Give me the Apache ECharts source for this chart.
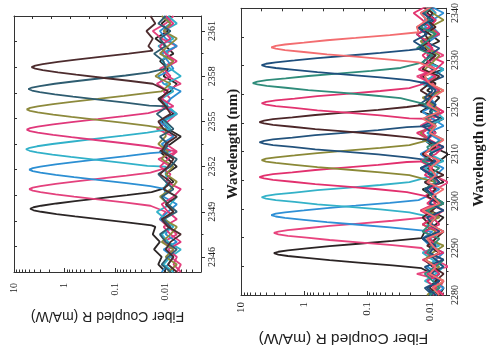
<!DOCTYPE html>
<html>
<head>
<meta charset="utf-8">
<script src="https://cdn.jsdelivr.net/npm/echarts@6/dist/echarts.min.js"></script>
<style>
  html, body { margin: 0; padding: 0; background: #ffffff; }
  #chart { width: 488px; height: 359px; }
</style>
</head>
<body>
<div id="chart"></div>
<script>
// ---------- responsivity axis (log) ----------
const respTicks = [0.01, 0.1, 1, 10];
const respTickLabels = ['0.01', '0.1', '1', '10'];
const respMinorTicks = [0.002, 0.003, 0.004, 0.005, 0.006, 0.007, 0.008, 0.009,
  0.02, 0.03, 0.04, 0.05, 0.06, 0.07, 0.08, 0.09,
  0.2, 0.3, 0.4, 0.5, 0.6, 0.7, 0.8, 0.9,
  2, 3, 4, 5, 6, 7, 8, 9];

// ---------- fine scan, 2345-2362 nm ----------
const fineWaveTicks = [2346, 2349, 2352, 2355, 2358, 2361];
const fineWaveMinor = [2347.5, 2350.5, 2353.5, 2356.5, 2359.5];
const fineFloorWave = [2345.0, 2345.5, 2346.0, 2346.5, 2347.0, 2347.5, 2348.0, 2348.5, 2349.0, 2349.5,
  2350.0, 2350.5, 2351.0, 2351.5, 2352.0, 2352.5, 2353.0, 2353.5, 2354.0, 2354.5, 2355.0, 2355.5,
  2356.0, 2356.5, 2357.0, 2357.5, 2358.0, 2358.5, 2359.0, 2359.5, 2360.0, 2360.5, 2361.0, 2361.5, 2362.0];

const fineColors = ['#2b2626', '#e4417d', '#2c8fd3', '#31b1c9', '#e0387b', '#8d8a3c', '#2e5c70', '#4d2c2e'];

// passband of each channel: [wavelength nm, R mA/W]
const fineCh1 = [[2348.1,0.019],[2348.3,0.058],[2348.5,0.19],[2348.7,0.62],[2348.85,1.44],[2349.0,2.9],[2349.1,4.1],[2349.2,4.8],[2349.3,4.1],[2349.4,2.9],[2349.55,1.44],[2349.7,0.62],[2349.9,0.19],[2350.1,0.058],[2350.3,0.019]];
const fineCh2 = [[2349.4,0.02],[2349.6,0.06],[2349.8,0.2],[2350.0,0.65],[2350.15,1.5],[2350.3,3.0],[2350.4,4.25],[2350.5,5.0],[2350.6,4.25],[2350.7,3.0],[2350.85,1.5],[2351.0,0.65],[2351.2,0.2],[2351.4,0.06],[2351.6,0.02]];
const fineCh3 = [[2350.7,0.02],[2350.9,0.06],[2351.1,0.2],[2351.3,0.65],[2351.45,1.5],[2351.6,3.0],[2351.7,4.25],[2351.8,5.0],[2351.9,4.25],[2352.0,3.0],[2352.15,1.5],[2352.3,0.65],[2352.5,0.2],[2352.7,0.06],[2352.9,0.02]];
const fineCh4 = [[2352.05,0.023],[2352.25,0.07],[2352.45,0.23],[2352.65,0.75],[2352.8,1.74],[2352.95,3.5],[2353.05,4.9],[2353.15,5.8],[2353.25,4.9],[2353.35,3.5],[2353.5,1.74],[2353.65,0.75],[2353.85,0.23],[2354.05,0.07],[2354.25,0.023]];
const fineCh5 = [[2353.35,0.022],[2353.55,0.067],[2353.75,0.22],[2353.95,0.73],[2354.1,1.68],[2354.25,3.4],[2354.35,4.8],[2354.45,5.6],[2354.55,4.8],[2354.65,3.4],[2354.8,1.68],[2354.95,0.73],[2355.15,0.22],[2355.35,0.067],[2355.55,0.022]];
const fineCh6 = [[2354.7,0.022],[2354.9,0.067],[2355.1,0.22],[2355.3,0.73],[2355.45,1.68],[2355.6,3.4],[2355.7,4.8],[2355.8,5.6],[2355.9,4.8],[2356.0,3.4],[2356.15,1.68],[2356.3,0.73],[2356.5,0.22],[2356.7,0.067],[2356.9,0.022]];
const fineCh7 = [[2356.05,0.021],[2356.25,0.062],[2356.45,0.21],[2356.65,0.68],[2356.8,1.56],[2356.95,3.1],[2357.05,4.4],[2357.15,5.2],[2357.25,4.4],[2357.35,3.1],[2357.5,1.56],[2357.65,0.68],[2357.85,0.21],[2358.05,0.062],[2358.25,0.021]];
const fineCh8 = [[2357.5,0.018],[2357.7,0.054],[2357.9,0.18],[2358.1,0.59],[2358.25,1.35],[2358.4,2.7],[2358.5,3.8],[2358.6,4.5],[2358.7,3.8],[2358.8,2.7],[2358.95,1.35],[2359.1,0.59],[2359.3,0.18],[2359.5,0.054],[2359.7,0.018]];

// out-of-band floor of each channel, sampled on fineFloorWave
const fineFloor1 = [0.010,0.014,0.012,0.017,0.013,0.018,0.016,0.02,0.02,0.02,0.02,0.012,0.007,0.010,0.006,0.009,0.013,0.008,0.005,0.009,0.012,0.007,0.010,0.014,0.008,0.006,0.011,0.009,0.013,0.007,0.010,0.016,0.009,0.012,0.008];
const fineFloor2 = [0.006,0.005,0.008,0.007,0.011,0.006,0.009,0.013,0.01,0.01,0.01,0.01,0.01,0.012,0.008,0.014,0.006,0.010,0.007,0.015,0.009,0.006,0.012,0.008,0.011,0.005,0.009,0.013,0.007,0.010,0.006,0.012,0.018,0.010,0.007];
const fineFloor3 = [0.012,0.009,0.007,0.011,0.006,0.010,0.008,0.013,0.009,0.006,0.011,0.01,0.01,0.01,0.01,0.01,0.008,0.012,0.007,0.009,0.013,0.006,0.010,0.008,0.005,0.011,0.014,0.007,0.009,0.012,0.006,0.010,0.013,0.008,0.011];
const fineFloor4 = [0.007,0.011,0.008,0.005,0.009,0.012,0.007,0.010,0.015,0.008,0.006,0.011,0.009,0.01,0.01,0.01,0.01,0.01,0.014,0.008,0.011,0.006,0.009,0.012,0.007,0.010,0.005,0.008,0.012,0.009,0.014,0.007,0.011,0.006,0.009];
const fineFloor5 = [0.005,0.007,0.006,0.009,0.005,0.008,0.011,0.006,0.009,0.012,0.007,0.005,0.010,0.008,0.013,0.009,0.006,0.01,0.01,0.01,0.01,0.01,0.007,0.012,0.009,0.015,0.008,0.011,0.006,0.010,0.013,0.008,0.011,0.007,0.010];
const fineFloor6 = [0.009,0.006,0.010,0.007,0.012,0.008,0.006,0.011,0.007,0.009,0.013,0.008,0.006,0.010,0.007,0.012,0.009,0.014,0.010,0.01,0.01,0.01,0.01,0.01,0.012,0.008,0.016,0.010,0.007,0.013,0.009,0.006,0.011,0.008,0.012];
const fineFloor7 = [0.008,0.012,0.009,0.006,0.010,0.013,0.008,0.011,0.006,0.009,0.012,0.007,0.010,0.014,0.008,0.006,0.011,0.009,0.013,0.007,0.010,0.015,0.009,0.01,0.01,0.01,0.01,0.01,0.011,0.017,0.010,0.013,0.008,0.014,0.010];
const fineFloor8 = [0.006,0.009,0.007,0.010,0.008,0.005,0.009,0.012,0.007,0.010,0.006,0.011,0.008,0.013,0.009,0.007,0.012,0.010,0.006,0.011,0.014,0.008,0.010,0.013,0.009,0.012,0.02,0.02,0.02,0.02,0.022,0.018,0.024,0.016,0.02];

// ---------- wide scan, 2280-2341 nm ----------
const wideWaveTicks = [2280, 2290, 2300, 2310, 2320, 2330, 2340];
const wideWaveMinor = [2285, 2295, 2305, 2315, 2325, 2335];
const wideFloorWave = [2280, 2281.5, 2283, 2284.5, 2286, 2287.5, 2289, 2290.5, 2292, 2293.5, 2295, 2296.5,
  2298, 2299.5, 2301, 2302.5, 2304, 2305.5, 2307, 2308.5, 2310, 2311.5, 2313, 2314.5, 2316, 2317.5,
  2319, 2320.5, 2322, 2323.5, 2325, 2326.5, 2328, 2329.5, 2331, 2332.5, 2334, 2335.5, 2337, 2338.5, 2340, 2341.5];

const wideColors = ['#2b2424', '#e8447e', '#2f90d6', '#34b2c8', '#e2306e', '#8b8937',
  '#23537d', '#4c2628', '#e2336f', '#2f8c7a', '#1f4f7d', '#f36d70'];

const wideCh1 = [[2285.7,0.0135],[2286.3,0.039],[2286.9,0.135],[2287.4,0.39],[2287.9,0.9],[2288.3,1.8],[2288.6,2.55],[2288.9,3.0],[2289.2,2.55],[2289.5,1.8],[2289.9,0.9],[2290.4,0.39],[2290.9,0.135],[2291.5,0.039],[2292.1,0.0135]];
const wideCh2 = [[2290.0,0.0135],[2290.6,0.039],[2291.2,0.135],[2291.7,0.39],[2292.2,0.9],[2292.6,1.8],[2292.9,2.55],[2293.2,3.0],[2293.5,2.55],[2293.8,1.8],[2294.2,0.9],[2294.7,0.39],[2295.2,0.135],[2295.8,0.039],[2296.4,0.0135]];
const wideCh3 = [[2293.8,0.015],[2294.4,0.043],[2295.0,0.15],[2295.5,0.43],[2296.0,1.0],[2296.4,2.0],[2296.7,2.8],[2297.0,3.3],[2297.3,2.8],[2297.6,2.0],[2298.0,1.0],[2298.5,0.43],[2299.0,0.15],[2299.6,0.043],[2300.2,0.015]];
const wideCh4 = [[2297.6,0.021],[2298.2,0.061],[2298.8,0.21],[2299.3,0.61],[2299.8,1.41],[2300.2,2.8],[2300.5,4.0],[2300.8,4.7],[2301.1,4.0],[2301.4,2.8],[2301.8,1.41],[2302.3,0.61],[2302.8,0.21],[2303.4,0.061],[2304.0,0.021]];
const wideCh5 = [[2301.9,0.023],[2302.5,0.066],[2303.1,0.23],[2303.6,0.66],[2304.1,1.53],[2304.5,3.1],[2304.8,4.3],[2305.1,5.1],[2305.4,4.3],[2305.7,3.1],[2306.1,1.53],[2306.6,0.66],[2307.1,0.23],[2307.7,0.066],[2308.3,0.023]];
const wideCh6 = [[2305.5,0.021],[2306.1,0.061],[2306.7,0.21],[2307.2,0.61],[2307.7,1.41],[2308.1,2.8],[2308.4,4.0],[2308.7,4.7],[2309.0,4.0],[2309.3,2.8],[2309.7,1.41],[2310.2,0.61],[2310.7,0.21],[2311.3,0.061],[2311.9,0.021]];
const wideCh7 = [[2309.3,0.023],[2309.9,0.066],[2310.5,0.23],[2311.0,0.66],[2311.5,1.53],[2311.9,3.1],[2312.2,4.3],[2312.5,5.1],[2312.8,4.3],[2313.1,3.1],[2313.5,1.53],[2314.0,0.66],[2314.5,0.23],[2315.1,0.066],[2315.7,0.023]];
const wideCh8 = [[2313.6,0.023],[2314.2,0.066],[2314.8,0.23],[2315.3,0.66],[2315.8,1.53],[2316.2,3.1],[2316.5,4.3],[2316.8,5.1],[2317.1,4.3],[2317.4,3.1],[2317.8,1.53],[2318.3,0.66],[2318.8,0.23],[2319.4,0.066],[2320.0,0.023]];
const wideCh9 = [[2317.6,0.021],[2318.2,0.061],[2318.8,0.21],[2319.3,0.61],[2319.8,1.41],[2320.2,2.8],[2320.5,4.0],[2320.8,4.7],[2321.1,4.0],[2321.4,2.8],[2321.8,1.41],[2322.3,0.61],[2322.8,0.21],[2323.4,0.061],[2324.0,0.021]];
const wideCh10 = [[2321.9,0.029],[2322.5,0.085],[2323.1,0.29],[2323.6,0.85],[2324.1,1.95],[2324.5,3.9],[2324.8,5.5],[2325.1,6.5],[2325.4,5.5],[2325.7,3.9],[2326.1,1.95],[2326.6,0.85],[2327.1,0.29],[2327.7,0.085],[2328.3,0.029]];
const wideCh11 = [[2325.7,0.021],[2326.3,0.061],[2326.9,0.21],[2327.4,0.61],[2327.9,1.41],[2328.3,2.8],[2328.6,4.0],[2328.9,4.7],[2329.2,4.0],[2329.5,2.8],[2329.9,1.41],[2330.4,0.61],[2330.9,0.21],[2331.5,0.061],[2332.1,0.021]];
const wideCh12 = [[2329.5,0.015],[2330.1,0.043],[2330.7,0.15],[2331.2,0.43],[2331.7,1.0],[2332.1,2.0],[2332.4,2.8],[2332.7,3.3],[2333.0,2.8],[2333.3,2.0],[2333.7,1.0],[2334.2,0.43],[2334.7,0.15],[2335.3,0.043],[2335.9,0.015]];

const wideFloor1 = [0.007,0.006,0.008,0.009,0.01,0.01,0.01,0.01,0.01,0.012,0.008,0.006,0.010,0.007,0.009,0.013,0.006,0.008,0.011,0.007,0.005,0.009,0.012,0.008,0.010,0.006,0.014,0.009,0.007,0.011,0.008,0.013,0.006,0.010,0.009,0.012,0.007,0.010,0.015,0.008,0.011,0.009];
const wideFloor2 = [0.009,0.007,0.006,0.016,0.005,0.008,0.011,0.01,0.01,0.01,0.01,0.007,0.010,0.006,0.012,0.008,0.005,0.009,0.013,0.007,0.010,0.006,0.011,0.008,0.014,0.009,0.006,0.010,0.012,0.007,0.009,0.016,0.008,0.011,0.006,0.010,0.013,0.007,0.009,0.012,0.008,0.010];
const wideFloor3 = [0.008,0.006,0.009,0.007,0.011,0.008,0.006,0.010,0.013,0.009,0.01,0.01,0.01,0.01,0.011,0.007,0.012,0.008,0.006,0.010,0.014,0.009,0.007,0.011,0.006,0.009,0.013,0.008,0.010,0.007,0.012,0.009,0.006,0.011,0.008,0.014,0.010,0.007,0.012,0.009,0.006,0.010];
const wideFloor4 = [0.010,0.007,0.012,0.008,0.006,0.009,0.013,0.007,0.010,0.006,0.011,0.009,0.01,0.01,0.01,0.01,0.01,0.008,0.012,0.006,0.010,0.007,0.013,0.009,0.011,0.006,0.008,0.012,0.010,0.007,0.014,0.009,0.006,0.011,0.008,0.010,0.013,0.007,0.009,0.012,0.008,0.011];
const wideFloor5 = [0.006,0.009,0.007,0.011,0.008,0.013,0.006,0.010,0.008,0.012,0.007,0.009,0.014,0.008,0.011,0.01,0.01,0.01,0.01,0.009,0.013,0.007,0.010,0.016,0.008,0.011,0.006,0.009,0.012,0.007,0.010,0.014,0.008,0.006,0.011,0.009,0.013,0.007,0.010,0.008,0.012,0.009];
const wideFloor6 = [0.011,0.008,0.006,0.010,0.007,0.012,0.009,0.006,0.011,0.008,0.013,0.007,0.010,0.006,0.009,0.012,0.008,0.01,0.01,0.01,0.01,0.01,0.010,0.014,0.008,0.011,0.007,0.009,0.013,0.006,0.010,0.008,0.012,0.009,0.007,0.011,0.014,0.008,0.010,0.006,0.009,0.012];
const wideFloor7 = [0.009,0.012,0.007,0.010,0.006,0.008,0.011,0.009,0.013,0.007,0.010,0.008,0.012,0.006,0.009,0.011,0.007,0.010,0.014,0.008,0.01,0.01,0.01,0.01,0.009,0.012,0.007,0.015,0.010,0.008,0.011,0.006,0.009,0.013,0.010,0.007,0.012,0.016,0.009,0.011,0.014,0.008];
const wideFloor8 = [0.007,0.010,0.008,0.006,0.009,0.012,0.007,0.011,0.008,0.006,0.010,0.013,0.009,0.007,0.011,0.008,0.012,0.006,0.010,0.009,0.013,0.008,0.011,0.01,0.01,0.01,0.01,0.012,0.009,0.014,0.010,0.007,0.013,0.011,0.008,0.015,0.010,0.012,0.008,0.011,0.009,0.013];
const wideFloor9 = [0.006,0.008,0.011,0.007,0.009,0.006,0.012,0.008,0.010,0.007,0.013,0.009,0.006,0.011,0.008,0.010,0.007,0.012,0.009,0.014,0.008,0.006,0.010,0.013,0.009,0.011,0.01,0.01,0.01,0.01,0.012,0.008,0.015,0.010,0.013,0.009,0.011,0.016,0.010,0.013,0.018,0.011];
const wideFloor10 = [0.010,0.007,0.009,0.012,0.008,0.006,0.011,0.009,0.007,0.013,0.010,0.008,0.011,0.006,0.009,0.012,0.008,0.010,0.007,0.013,0.009,0.011,0.006,0.010,0.008,0.012,0.009,0.011,0.01,0.01,0.01,0.01,0.01,0.013,0.009,0.016,0.011,0.008,0.014,0.010,0.012,0.009];
const wideFloor11 = [0.008,0.011,0.007,0.009,0.012,0.006,0.010,0.008,0.013,0.007,0.009,0.011,0.006,0.010,0.008,0.012,0.007,0.009,0.014,0.008,0.010,0.006,0.011,0.009,0.013,0.007,0.010,0.008,0.012,0.009,0.011,0.01,0.01,0.01,0.01,0.012,0.018,0.011,0.016,0.009,0.013,0.010];
const wideFloor12 = [0.007,0.009,0.006,0.010,0.008,0.012,0.007,0.009,0.011,0.006,0.010,0.008,0.013,0.007,0.009,0.006,0.011,0.008,0.010,0.007,0.012,0.009,0.006,0.010,0.008,0.013,0.007,0.011,0.009,0.006,0.010,0.012,0.008,0.01,0.01,0.01,0.01,0.01,0.016,0.011,0.014,0.009];

const fineChannels = [fineCh1, fineCh2, fineCh3, fineCh4, fineCh5, fineCh6, fineCh7, fineCh8];
const fineFloors = [fineFloor1, fineFloor2, fineFloor3, fineFloor4, fineFloor5, fineFloor6, fineFloor7, fineFloor8];
const wideChannels = [wideCh1, wideCh2, wideCh3, wideCh4, wideCh5, wideCh6, wideCh7, wideCh8, wideCh9, wideCh10, wideCh11, wideCh12];
const wideFloors = [wideFloor1, wideFloor2, wideFloor3, wideFloor4, wideFloor5, wideFloor6, wideFloor7, wideFloor8, wideFloor9, wideFloor10, wideFloor11, wideFloor12];

// ---------- helpers ----------
// join a channel's passband with its floor samples outside the band; points are [R, wavelength]
function channelTrace(band, floorWave, floorR) {
  const lo = band[0][0], hi = band[band.length - 1][0];
  const below = [], above = [];
  floorWave.forEach((w, i) => {
    if (w < lo) below.push([w, floorR[i]]);
    else if (w > hi) above.push([w, floorR[i]]);
  });
  return below.concat(band, above).map(p => [p[1], p[0]]);
}

function respLabel(v) {
  const lv = Math.log10(v);
  for (let i = 0; i < respTicks.length; i++) {
    if (Math.abs(Math.log10(respTicks[i]) - lv) < 0.01) return respTickLabels[i];
  }
  return '';
}

const AXIS_COLOR = '#333333';
const TEXT_COLOR = '#1c1c1c';

function respAxis(gridIndex, minR, labelMargin, labelSize, nameGap, nameSize) {
  return {
    gridIndex, type: 'log', logBase: 10, position: 'bottom', inverse: true,
    min: minR, max: 10,
    axisLine: { show: true, onZero: false, lineStyle: { color: AXIS_COLOR, width: 1 } },
    axisTick: { show: true, inside: true, length: 4, lineStyle: { color: AXIS_COLOR } },
    axisLabel: {
      show: true, rotate: 90, margin: labelMargin, showMinLabel: false,
      fontFamily: 'Liberation Serif', fontSize: labelSize, color: TEXT_COLOR,
      formatter: respLabel
    },
    splitLine: { show: false },
    name: 'Fiber Coupled R (mA/W)', nameLocation: 'middle', nameGap, nameRotate: 180,
    nameTextStyle: { fontFamily: 'Liberation Sans', fontSize: nameSize, fontWeight: 'normal', color: '#222222' }
  };
}

// short ticks between decades, placed on a log10 scale spanning the same range
function respMinorAxis(gridIndex, minR) {
  const lo = Math.log10(minR);
  return {
    gridIndex, type: 'value', position: 'bottom', inverse: true, min: lo, max: 1,
    axisLine: { show: false, onZero: false },
    axisTick: {
      show: true, inside: true, length: 2.5, lineStyle: { color: AXIS_COLOR },
      customValues: respMinorTicks.map(Math.log10).filter(v => v > lo && v < 1)
    },
    axisLabel: { show: false },
    splitLine: { show: false }
  };
}

function frameXAxis(gridIndex) {
  return {
    gridIndex, type: 'value', position: 'top', min: 0, max: 10, interval: 1,
    axisLine: { show: true, onZero: false, lineStyle: { color: AXIS_COLOR } },
    axisTick: { show: true, inside: true, length: 3, lineStyle: { color: AXIS_COLOR } },
    axisLabel: { show: false }, splitLine: { show: false }
  };
}

function frameYAxis(gridIndex) {
  return {
    gridIndex, type: 'value', position: 'left', min: 0, max: 10, interval: 1,
    axisLine: { show: true, onZero: false, lineStyle: { color: AXIS_COLOR } },
    axisTick: { show: true, inside: true, length: 3, lineStyle: { color: AXIS_COLOR } },
    axisLabel: { show: false }, splitLine: { show: false }
  };
}

function waveAxis(gridIndex, min, max, ticks, labelMargin, labelSize, nameGap) {
  return {
    gridIndex, type: 'value', position: 'right', min, max,
    axisLine: { show: true, onZero: false, lineStyle: { color: AXIS_COLOR, width: 1 } },
    axisTick: { show: true, inside: false, length: 4, customValues: ticks, lineStyle: { color: AXIS_COLOR } },
    axisLabel: {
      show: true, customValues: ticks, rotate: 90, margin: labelMargin,
      fontFamily: 'Liberation Serif', fontSize: labelSize, color: TEXT_COLOR,
      formatter: v => String(v)
    },
    splitLine: { show: false },
    name: 'Wavelength (nm)', nameLocation: 'middle', nameGap, nameRotate: 90,
    nameTextStyle: { fontFamily: 'Liberation Serif', fontSize: 15, fontWeight: 'bold', color: TEXT_COLOR }
  };
}

function waveMinorAxis(gridIndex, min, max, ticks) {
  return {
    gridIndex, type: 'value', position: 'right', min, max,
    axisLine: { show: false, onZero: false },
    axisTick: { show: true, inside: false, length: 2.5, customValues: ticks, lineStyle: { color: AXIS_COLOR } },
    axisLabel: { show: false }, splitLine: { show: false }
  };
}

const FINE_MIN_R = 0.002, WIDE_MIN_R = 0.0055;

const xAxes = [
  respAxis(0, FINE_MIN_R, 11, 10, 33, 14),
  respMinorAxis(0, FINE_MIN_R),
  frameXAxis(0),
  respAxis(1, WIDE_MIN_R, 7, 11, 35, 15.5),
  respMinorAxis(1, WIDE_MIN_R),
  frameXAxis(1)
];
const yAxes = [
  waveAxis(0, 2345, 2362, fineWaveTicks, 6, 10, 25),
  waveMinorAxis(0, 2345, 2362, fineWaveMinor),
  frameYAxis(0),
  waveAxis(1, 2280, 2341, wideWaveTicks, 4, 10, 26),
  waveMinorAxis(1, 2280, 2341, wideWaveMinor),
  frameYAxis(1)
];

const series = [];
fineChannels.forEach((band, i) => {
  series.push({
    type: 'line', xAxisIndex: 0, yAxisIndex: 0,
    data: channelTrace(band, fineFloorWave, fineFloors[i]),
    showSymbol: false, smooth: false, clip: true,
    lineStyle: { color: fineColors[i], width: 1.8 }
  });
});
wideChannels.forEach((band, i) => {
  series.push({
    type: 'line', xAxisIndex: 3, yAxisIndex: 3,
    data: channelTrace(band, wideFloorWave, wideFloors[i]),
    showSymbol: false, smooth: false, clip: true,
    lineStyle: { color: wideColors[i], width: 1.8 }
  });
});

const chart = echarts.init(document.getElementById('chart'), null, { renderer: 'canvas' });
chart.setOption({
  backgroundColor: '#ffffff',
  animation: false,
  grid: [
    { left: 14, top: 16, width: 187, height: 256 },
    { left: 241, top: 8, width: 208, height: 287 }
  ],
  xAxis: xAxes,
  yAxis: yAxes,
  series
});
</script>
</body>
</html>
